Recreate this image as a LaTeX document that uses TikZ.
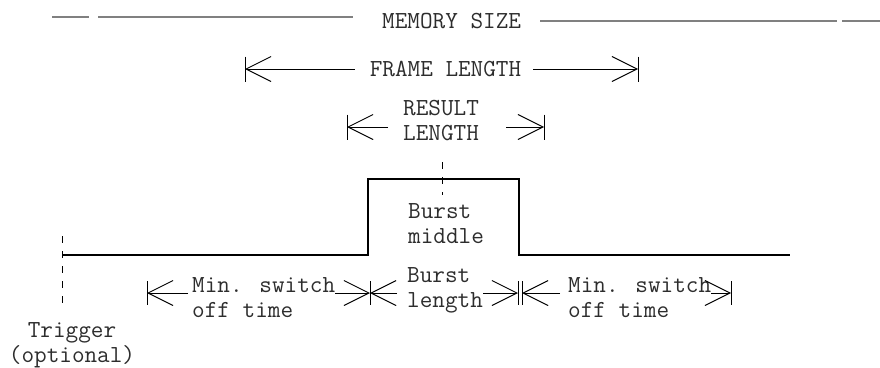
\documentclass[tikz,border=0pt]{standalone}
\usepackage{fontspec}
\usepackage{tikz}
\usetikzlibrary{arrows.meta}

\begin{document}
\begin{tikzpicture}[x=1pt,y=-1pt,
    lbl/.style={font=\ttfamily\fontsize{24.5}{25}\selectfont, text=textgray, inner sep=0pt, align=left},
    dimline/.style={line width=1pt, -{Straight Barb[length=25pt,width=25pt]}},
    endbar/.style={line width=1pt},
    memline/.style={gray, line width=1.5pt},
    guide/.style={line width=1pt, dash pattern=on 7pt off 8pt},
    signal/.style={line width=1.1pt, line join=miter}]
    % Define colors
    \definecolor{textgray}{RGB}{45,45,45}
    \useasboundingbox (0,0) rectangle (880,367);

    % Memory size
    \node[lbl, anchor=west] (memtext) at (382,21) {MEMORY SIZE};
    \coordinate (memA) at (52,17);
    \coordinate (memB) at (89,17);
    \coordinate (memC) at (98,17);
    \coordinate (memD) at (353,17);
    \coordinate (memE) at (540,21);
    \coordinate (memF) at (837,21);
    \coordinate (memG) at (842,21);
    \coordinate (memH) at (880,21);
    \draw[memline] (memA) -- (memB);
    \draw[memline] (memC) -- (memD);
    \draw[memline] (memE) -- (memF);
    \draw[memline] (memG) -- (memH);

    % Frame length
    \node[lbl] (frametext) at (445.5,69) {FRAME LENGTH};
    \coordinate (frameL) at (245,69);
    \coordinate (frameR) at (638,69);
    \draw[dimline] ([xshift=-15pt]frametext.west) -- (frameL);
    \draw[dimline] ([xshift=12pt]frametext.east) -- (frameR);

    % Result length
    \node[lbl, anchor=west] (resulttext) at (403,120.5) {RESULT\\LENGTH};
    \coordinate (resL) at (347,127);
    \coordinate (resR) at (544,127);
    \draw[dimline] ([xshift=-15pt]resulttext.west |- resL) -- (resL);
    \draw[dimline] ([xshift=27pt]resulttext.east |- resR) -- (resR);

    % End bars of the upper dimensions
    \foreach \name/\x/\y in {frameL/245/69, frameR/638/69, resL/347/127, resR/544/127} {
        \draw[endbar] (\x,\y-12.5) -- (\x,\y+12.5);
    }

    % Signal with burst
    \draw[signal] (63,255) -- (368,255) -- (368,179) -- (519,179) -- (519,255) -- (790,255);
    \node[lbl, anchor=west] (midtext) at (408,223.5) {Burst\\middle};
    \coordinate (midtop) at (442,162);
    \coordinate (midbot) at (442,195);
    \draw[guide] (midtop) -- (midbot);

    % Trigger
    \node[lbl, align=center] (trigtext) at (72,345) {Trigger\\(optional)};
    \coordinate (trigtop) at (62,236);
    \coordinate (trigbot) at (62,305);
    \draw[guide] (trigtop) -- (trigbot);

    % Lower dimensions
    \foreach \name/\x in {b1/147, b2/370, b3/518, b4/522, b5/731} {
        \coordinate (\name) at (\x,293);
        \draw[endbar] (\x,281) -- (\x,305);
    }
    \node[lbl, anchor=west] (offtext1) at (192,297.5) {Min. switch\\off time};
    \draw[dimline] ([xshift=-4pt]offtext1.west |- b1) -- (b1);
    \draw[dimline] (offtext1.east |- b2) -- (b2);
    \node[lbl, anchor=west] (bursttext) at (407,290.5) {Burst\\length};
    \draw[dimline] ([xshift=-10pt]bursttext.west |- b2) -- (b2);
    \draw[dimline] (bursttext.east |- b3) -- (b3);
    \node[lbl, anchor=west] (offtext2) at (568,297.5) {Min. switch\\off time};
    \draw[dimline] ([xshift=-8pt]offtext2.west |- b4) -- (b4);
    \draw[dimline] (offtext2.east |- b5) -- (b5);
\end{tikzpicture}
\end{document}
